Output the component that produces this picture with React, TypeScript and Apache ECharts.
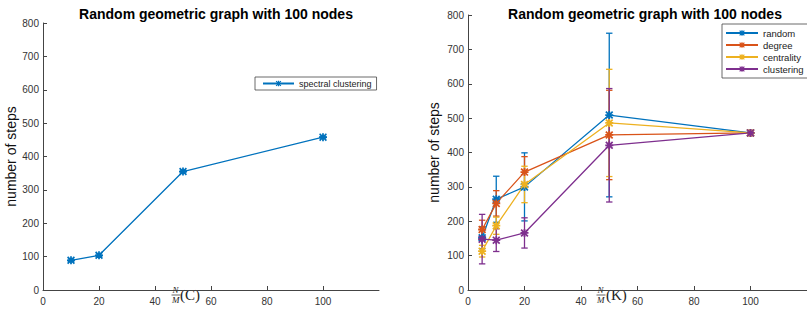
import React, { useEffect, useRef } from "react";
import * as echarts from "echarts";

// ---- data ----
const titleText = "Random geometric graph with 100 nodes";
const yName = "number of steps";

const xLeft = [10, 20, 50, 100];
const spectral = [89, 104, 355, 458];
const spectralErr = [4, 4, 4, 3];

const xRight = [5, 10, 20, 50, 100];
const randomVals = [152, 264, 300, 509, 457];
const randomErr = [32, 67, 99, 238, 2];
const degreeVals = [176, 252, 343, 451, 457];
const degreeErr = [27, 37, 45, 130, 2];
const centralityVals = [113, 187, 307, 486, 457];
const centralityErr = [17, 25, 53, 156, 2];
const clusteringVals = [148, 145, 166, 421, 457];
const clusteringErr = [72, 33, 44, 165, 2];

const xTicks = [0, 20, 40, 60, 80, 100];

const C_BLUE = "#0072BD";
const C_RED = "#D95319";
const C_YEL = "#EDB120";
const C_PUR = "#7E2F8E";

const ASTERISK =
  "path://M0.78 0 L1.22 0 L1.22 2 L0.78 2 Z M0 0.78 L2 0.78 L2 1.22 L0 1.22 Z M0.3 0 L2 1.7 L1.7 2 L0 0.3 Z M1.7 0 L2 0.3 L0.3 2 L0 1.7 Z";

const FONT = "Liberation Sans, Arial, Helvetica, sans-serif";
const SERIF = "Liberation Serif, DejaVu Serif, serif";
const AX = "#444";

function lineSeries(name: string, xs: number[], ys: number[], color: string, idx: number) {
  return {
    type: "line",
    name,
    xAxisIndex: idx,
    yAxisIndex: idx,
    data: xs.map((x, i) => [x, ys[i]]),
    symbol: ASTERISK,
    symbolSize: 8,
    showSymbol: true,
    itemStyle: { color },
    lineStyle: { color, width: 1.3 },
    z: 3,
  };
}

function errSeries(name: string, xs: number[], ys: number[], es: number[], color: string, idx: number) {
  return {
    type: "custom",
    name: name + "-err",
    xAxisIndex: idx,
    yAxisIndex: idx,
    coordinateSystem: "cartesian2d",
    data: xs.map((x, i) => [x, ys[i] - es[i], ys[i] + es[i]]),
    encode: { x: 0, y: [1, 2] },
    z: 3,
    renderItem: (params: any, api: any) => {
      const x = api.value(0);
      const lo = api.value(1);
      const hi = api.value(2);
      const t = api.coord([x, hi]);
      const b = api.coord([x, lo]);
      const w = 3.2;
      const style = { stroke: color, lineWidth: 1.3 };
      return {
        type: "group",
        children: [
          { type: "line", shape: { x1: t[0], y1: t[1], x2: b[0], y2: b[1] }, style },
          { type: "line", shape: { x1: t[0] - w, y1: t[1], x2: t[0] + w, y2: t[1] }, style },
          { type: "line", shape: { x1: b[0] - w, y1: b[1], x2: b[0] + w, y2: b[1] }, style },
        ],
      };
    },
  };
}

function xAxisDef(idx: number) {
  return {
    type: "value",
    gridIndex: idx,
    min: 0,
    max: 120,
    interval: 20,
    axisLine: { show: true, lineStyle: { color: AX, width: 1 } },
    axisTick: { show: true, inside: true, length: 4, lineStyle: { color: AX }, customValues: xTicks },
    axisLabel: { color: "#333", fontSize: 10, fontFamily: FONT, margin: 6, customValues: xTicks },
    splitLine: { show: false },
  };
}

function yAxisDef(idx: number, gap: number) {
  return {
    type: "value",
    gridIndex: idx,
    min: 0,
    max: 800,
    interval: 100,
    name: yName,
    nameLocation: "middle",
    nameGap: gap,
    nameTextStyle: { fontSize: 14, color: "#111", fontFamily: FONT },
    axisLine: { show: true, lineStyle: { color: AX, width: 1 } },
    axisTick: { show: true, inside: true, length: 4, lineStyle: { color: AX } },
    axisLabel: { color: "#333", fontSize: 10, fontFamily: FONT, margin: 4 },
    splitLine: { show: false },
  };
}

function fracLabel(cx: number, letter: string, lx: number) {
  return [
    { type: "text", left: cx - 3.5, top: 285.5, style: { text: "N", font: `italic 9px ${SERIF}`, fill: "#222" } },
    { type: "line", shape: { x1: cx - 4.5, y1: 295, x2: cx + 4.5, y2: 295 }, style: { stroke: "#222", lineWidth: 0.7 } },
    { type: "text", left: cx - 4, top: 295.5, style: { text: "M", font: `italic 9px ${SERIF}`, fill: "#222" } },
    { type: "text", left: lx, top: 287, style: { text: `(${letter})`, font: `15px ${SERIF}`, fill: "#222" } },
  ];
}

export default function App() {
  const ref = useRef<HTMLDivElement>(null);
  useEffect(() => {
    if (!ref.current) return;
    const chart = echarts.init(ref.current, null, { renderer: "svg" });
    const option: any = {
      animation: false,
      backgroundColor: "#fff",
      title: [
        {
          text: titleText,
          left: 211,
          top: 2,
          textAlign: "center",
          textStyle: { fontSize: 14, fontWeight: "bold", color: "#000", fontFamily: FONT },
        },
        {
          text: titleText,
          left: 640,
          top: 2,
          textAlign: "center",
          textStyle: { fontSize: 14, fontWeight: "bold", color: "#000", fontFamily: FONT },
        },
      ],
      grid: [
        { left: 43, top: 23, width: 336, height: 267 },
        { left: 468, top: 15, width: 344, height: 275 },
      ],
      xAxis: [xAxisDef(0), xAxisDef(1)],
      yAxis: [yAxisDef(0, 23), yAxisDef(1, 27)],
      legend: [
        {
          data: ["spectral clustering"],
          left: 255,
          top: 77,
          orient: "vertical",
          padding: [2, 5, 2, 7],
          itemWidth: 31,
          itemHeight: 7,
          backgroundColor: "#fff",
          borderColor: "#444",
          borderWidth: 0.8,
          borderRadius: 0,
          textStyle: { fontSize: 9, color: "#222", fontFamily: FONT },
        },
        {
          data: ["random", "degree", "centrality", "clustering"],
          left: 722,
          top: 24,
          orient: "vertical",
          padding: [4, 6, 4, 3],
          itemGap: 2,
          itemWidth: 32,
          itemHeight: 7,
          backgroundColor: "#fff",
          borderColor: "#444",
          borderWidth: 0.8,
          borderRadius: 0,
          textStyle: { fontSize: 9.5, color: "#222", fontFamily: FONT },
        },
      ],
      series: [
        errSeries("spectral clustering", xLeft, spectral, spectralErr, C_BLUE, 0),
        lineSeries("spectral clustering", xLeft, spectral, C_BLUE, 0),
        errSeries("random", xRight, randomVals, randomErr, C_BLUE, 1),
        lineSeries("random", xRight, randomVals, C_BLUE, 1),
        errSeries("degree", xRight, degreeVals, degreeErr, C_RED, 1),
        lineSeries("degree", xRight, degreeVals, C_RED, 1),
        errSeries("centrality", xRight, centralityVals, centralityErr, C_YEL, 1),
        lineSeries("centrality", xRight, centralityVals, C_YEL, 1),
        errSeries("clustering", xRight, clusteringVals, clusteringErr, C_PUR, 1),
        lineSeries("clustering", xRight, clusteringVals, C_PUR, 1),
      ],
      graphic: [...fracLabel(176, "C", 180), ...fracLabel(601, "K", 606)],
    };
    chart.setOption(option);
    return () => chart.dispose();
  }, []);
  return (
    <div
      ref={ref}
      style={{ position: "fixed", left: 0, top: 0, width: 807, height: 325, background: "#fff" }}
    />
  );
}
